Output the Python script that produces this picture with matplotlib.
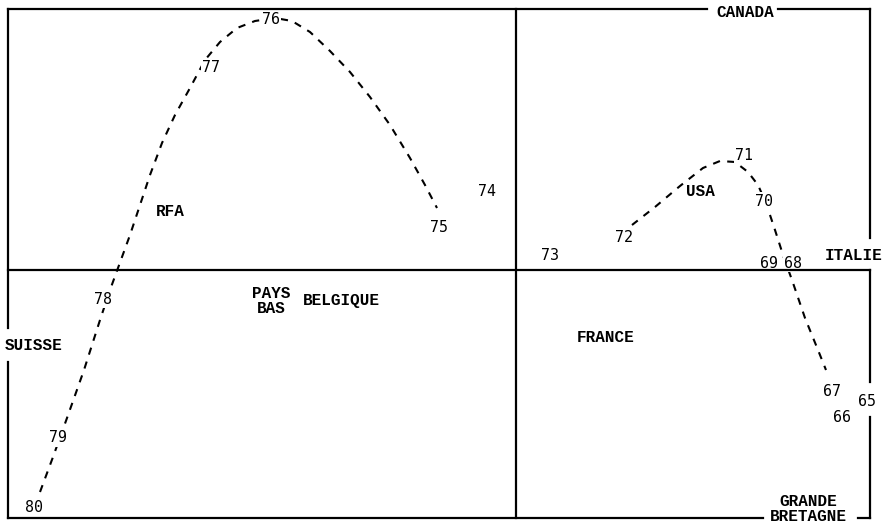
import numpy as np
import matplotlib.pyplot as plt

# factor plane coordinates (axis 1 horizontal, axis 2 vertical)
years = ["80", "79", "78", "77", "76", "75", "74", "73", "72", "71",
         "70", "69", "68", "67", "66", "65"]
year_x = [-4.82, -4.58, -4.13, -3.05, -2.45, -0.77, -0.29, 0.34, 1.08, 2.28,
          2.48, 2.53, 2.77, 3.16, 3.26, 3.51]
year_y = [-2.38, -1.68, -0.29, 2.02, 2.50, 0.42, 0.78, 0.15, 0.33, 1.14,
          0.69, 0.07, 0.07, -1.22, -1.48, -1.32]

countries = ["CANADA", "ITALIE", "SUISSE", "RFA", "PAYS\nBAS", "BELGIQUE",
             "FRANCE", "USA", "GRANDE\nBRETAGNE"]
country_x = [2.29, 3.38, -4.82, -3.46, -2.45, -1.75, 0.90, 1.84, 2.92]
country_y = [2.58, 0.15, -0.76, 0.59, -0.31, -0.31, -0.67, 0.78, -2.39]

# trajectory 80 -> 75 (hand traced)
traj1_x = [-4.76, -4.63, -4.49, -4.32, -4.16, -4.06, -3.98, -3.86, -3.76,
           -3.66, -3.54, -3.41, -3.26, -3.11, -2.96, -2.79, -2.61, -2.41,
           -2.24, -2.06, -1.86, -1.66, -1.46, -1.26, -1.06, -0.91, -0.79]
traj1_y = [-2.22, -1.87, -1.48, -1.00, -0.50, -0.20, 0.02, 0.35, 0.65,
           0.95, 1.27, 1.55, 1.82, 2.10, 2.28, 2.42, 2.49, 2.52,
           2.49, 2.38, 2.19, 1.98, 1.73, 1.45, 1.12, 0.85, 0.62]

# trajectory 72 -> 67
traj2_x = [1.16, 1.39, 1.64, 1.87, 2.04, 2.19, 2.32, 2.42, 2.50, 2.59,
           2.68, 2.76, 2.89, 3.02, 3.10]
traj2_y = [0.45, 0.63, 0.84, 1.02, 1.09, 1.08, 0.98, 0.85, 0.67, 0.40,
           0.12, -0.10, -0.48, -0.80, -1.00]

fig = plt.figure(figsize=(8.85, 5.24), dpi=100)
ax = fig.add_axes([0, 0, 1, 1])
ax.set_xlim(-5.16, 3.69)
ax.set_ylim(-2.54, 2.70)
ax.axis('off')

L, R, T, B = -5.08, 3.54, 2.61, -2.48
frame = dict(color='black', lw=1.6, solid_capstyle='projecting', zorder=5)

# frame with gaps for the labels sitting on it
ax.plot([L, 1.91], [T, T], **frame)
ax.plot([2.62, R], [T, T], **frame)
ax.plot([R, R], [T, 0.32], **frame)
ax.plot([R, R], [0.0, -1.12], **frame)
ax.plot([R, R], [-1.47, B], **frame)
ax.plot([L, 2.47], [B, B], **frame)
ax.plot([3.42, R], [B, B], **frame)
ax.plot([L, L], [T, -0.58], **frame)
ax.plot([L, L], [-0.92, B], **frame)

# factor axes
ax.plot([L, R], [0, 0], **frame)
ax.plot([0, 0], [B, T], **frame)

# trajectories
ax.plot(traj1_x, traj1_y, color='black', lw=1.5, ls=(0, (3.5, 3.5)), zorder=2)
ax.plot(traj2_x, traj2_y, color='black', lw=1.5, ls=(0, (3.5, 3.5)), zorder=2)

for lab, x, y in zip(years, year_x, year_y):
    ax.text(x, y, lab, ha='center', va='center', fontsize=10.8,
            family='DejaVu Sans Mono', zorder=4,
            bbox=dict(facecolor='white', edgecolor='none', pad=1))

for lab, x, y in zip(countries, country_x, country_y):
    ax.text(x, y, lab, ha='center', va='center', fontsize=11.5,
            family='Liberation Mono', weight='bold', linespacing=1.05,
            zorder=4)

fig.savefig('out.png', dpi=100, facecolor='white')
